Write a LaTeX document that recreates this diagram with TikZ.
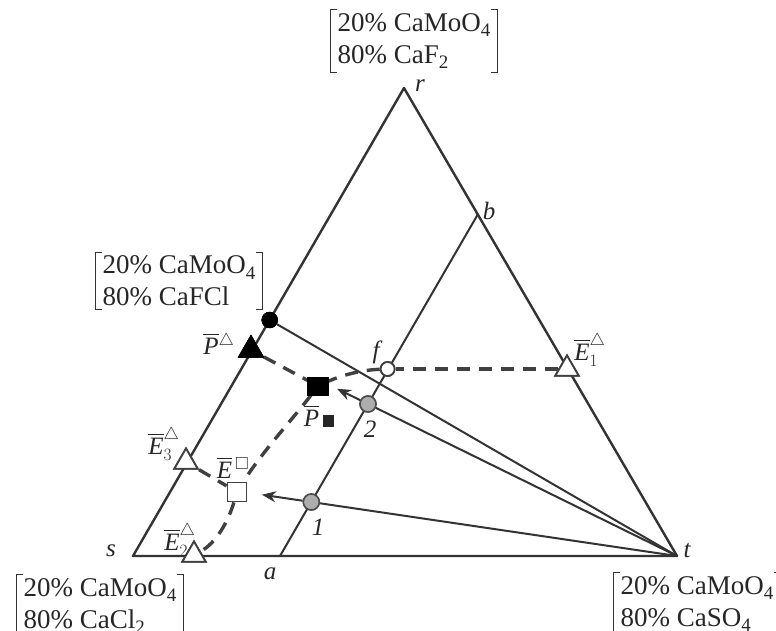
\documentclass[tikz,border=0pt]{standalone}
\usepackage{amssymb}
\usepackage{fontspec}
\setmainfont{Liberation Serif}
\usetikzlibrary{arrows.meta,calc,shapes.geometric}
\newcommand\bracketsof[1]{%
  \draw[brk] ([xshift=7pt]#1.north west) -- (#1.north west) -- (#1.south west) -- ([xshift=7pt]#1.south west);
  \draw[brk] ([xshift=-7pt]#1.north east) -- (#1.north east) -- (#1.south east) -- ([xshift=-7pt]#1.south east);}
\newcommand\chemsub[1]{\raisebox{-0.22em}{\fontsize{19}{19}\selectfont #1}}
\begin{document}
\begin{tikzpicture}[x=1pt,y=-1pt,
  edge/.style={line width=2.4pt, draw=black!80, line cap=round, line join=round},
  tie/.style={line width=2pt, draw=black!80},
  dline/.style={line width=3.4pt, draw=black!75, dash pattern=on 13pt off 9pt},
  arr/.style={tie, -{Stealth[length=14pt,width=11pt]}},
  chem/.style={font=\fontsize{27}{32}\selectfont, align=left, inner xsep=7pt, inner ysep=3pt, text=black!85},
  brk/.style={line width=1pt, draw=black!80},
  lab/.style={font=\fontsize{25}{30}\selectfont\itshape, inner sep=0pt, text=black!85},
  mlab/.style={font=\fontsize{25}{30}\selectfont, inner sep=0pt, text=black!85},
  opentri/.style={regular polygon, regular polygon sides=3, minimum size=27pt, inner sep=0pt, draw=black!75, fill=white, line width=1.8pt},
  blacktri/.style={regular polygon, regular polygon sides=3, minimum size=30pt, inner sep=0pt, draw=black, fill=black},
  opensq/.style={rectangle, minimum size=19pt, inner sep=0pt, draw=black!75, fill=white, line width=1.8pt},
  blacksq/.style={rectangle, minimum width=21pt, minimum height=18pt, inner sep=0pt, draw=black, fill=black},
  blackdot/.style={circle, minimum size=16pt, inner sep=0pt, draw=black, fill=black},
  opendot/.style={circle, minimum size=14pt, inner sep=0pt, draw=black!75, fill=white, line width=1.8pt},
  graydot/.style={circle, minimum size=16pt, inner sep=0pt, draw=black!70, fill=black!32, line width=1.5pt}
]
\useasboundingbox (0,0) rectangle (776,631);
\clip (0,0) rectangle (776,631);

% vertices and points
\coordinate (s) at (133,556);
\coordinate (t) at (677,556);
\coordinate (r) at (404,88);
\coordinate (a) at (280,556);
\coordinate (b) at (477.8,214.4);
\coordinate (tipA) at ($(t)!1.1!(368,404)$);
\coordinate (tipB) at ($(t)!1.135!(311.3,502)$);

% triangle edges
\draw[edge] (s) -- (t) -- (r) -- cycle;
\draw[tie] (a) -- (b);

% markers (placed as nodes)
\node[blackdot] (c) at (269.7,320) {};
\node[graydot] (p2) at (368,404) {};
\node[graydot] (p1) at (311.3,502) {};
\node[opendot] (f) at (387.6,369) {};
\node[blacktri] (Ptri) at (251,350) {};
\node[opentri] (E3) at (186,462) {};
\node[opentri] (E2) at (194,555) {};
\node[opentri] (E1) at (567,369) {};
\node[opensq] (Esq) at (237,492) {};
\node[blacksq] (Psq) at (318,386) {};

% tie lines from t
\draw[tie] (c) -- (t);
\draw[tie] (t) -- (p2);
\draw[arr] (p2) -- (tipA);
\draw[tie] (t) -- (p1);
\draw[arr] (p1) -- (tipB);

% dashed crystallisation paths
\draw[dline] (E1) -- (f);
\draw[dline] (f) .. controls (360,370) and (340,376) .. (Psq);
\draw[dline] (Ptri) -- (Psq);
\draw[dline] (Psq) .. controls (292,420) and (262,452) .. (Esq);
\draw[dline] (Esq) .. controls (228,522) and (216,543) .. (E2);
\draw[dline] (E3) -- (Esq);

% redraw markers on top
\node[blackdot] at (c) {};
\node[graydot] at (p2) {};
\node[graydot] at (p1) {};
\node[opendot] at (f) {};
\node[blacktri] at (Ptri) {};
\node[opentri] at (E3) {};
\node[opentri] at (E2) {};
\node[opentri] at (E1) {};
\node[opensq] at (Esq) {};
\node[blacksq] at (Psq) {};

% point labels
\node[lab] (lr) at (420,86) {r};
\node[lab] (lb) at (489,211) {b};
\node[lab] (lf) at (376,352) {f};
\node[lab] (l2) at (370,429) {2};
\node[lab] (l1) at (318,527) {1};
\node[lab] (la) at (270,574) {a};
\node[lab] (ls) at (111,551) {s};
\node[lab] (lt) at (687,551) {t};

\node[mlab] (lP) at (219,344) {$\overline{\textit{P}}{}^{\triangle}$};
\node[mlab] (lE3) at (164,444) {$\overline{\textit{E}}^{\triangle}_{3}$};
\node[mlab] (lE) at (233,468) {$\overline{\textit{E}}{}^{\,\square}$};
\node[mlab] (lE2) at (180,540) {$\overline{\textit{E}}^{\triangle}_{2}$};
\node[mlab] (lE1) at (590,350) {$\overline{\textit{E}}^{\triangle}_{1}$};
\node[mlab] (lPs) at (319,416) {$\overline{\textit{P}}$\,\rule{11pt}{12pt}};

% composition labels
\node[chem] (top) at (414,41) {20\% CaMoO\chemsub{4}\\80\% CaF\chemsub{2}};
\bracketsof{top}
\node[chem] (left) at (179,281) {20\% CaMoO\chemsub{4}\\80\% CaFCl};
\bracketsof{left}
\node[chem] (bl) at (100,606) {20\% CaMoO\chemsub{4}\\80\% CaCl\chemsub{2}};
\bracketsof{bl}
\node[chem] (br) at (697,604) {20\% CaMoO\chemsub{4}\\80\% CaSO\chemsub{4}};
\bracketsof{br}
\end{tikzpicture}
\end{document}
